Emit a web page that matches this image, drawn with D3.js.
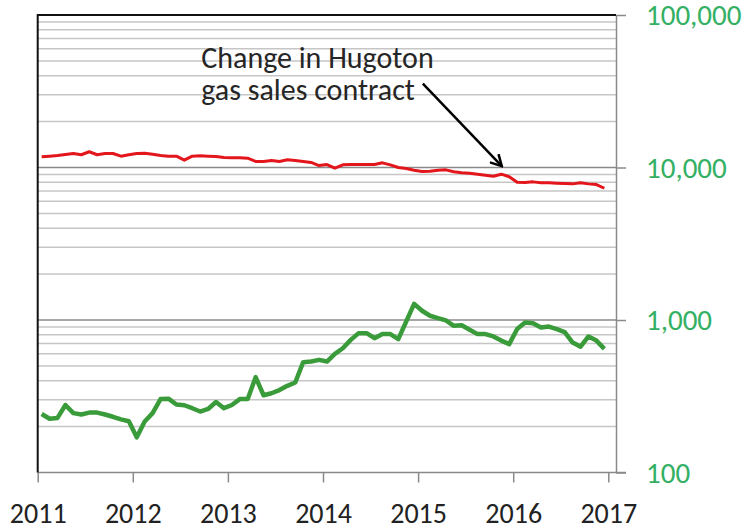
<!DOCTYPE html>
<html>
<head>
<meta charset="utf-8">
<script src="https://cdn.jsdelivr.net/npm/d3@7"></script>
<style>
	body { margin: 0; background: #fff; }
	text { font-family: Carlito, Calibri, "Open Sans", sans-serif; }
</style>
</head>
<body>
<script>
var width		= 755,
	height		= 529,
	plotLeft	= 37.7,
	plotRight	= 616,
	plotTop		= 15,
	plotBottom	= 472.5;

// monthly values, Jan 2011 .. Dec 2016
var redValues = [
	11755, 11860, 11990, 12170, 12360, 12120, 12680, 12120, 12360, 12360, 11860, 12120,
	12360, 12420, 12230, 11990, 11860, 11860, 11170, 11860, 11920, 11860, 11800, 11630,
	11580, 11580, 11520, 10950, 10950, 11120, 10950, 11230, 11120, 10950, 10790, 10300,
	10460, 9900, 10410, 10460, 10460, 10460, 10460, 10730, 10410, 10000, 9850, 9600,
	9415, 9460, 9600, 9650, 9370, 9230, 9180, 9040, 8900, 8770, 9040, 8690,
	8000, 7970, 8050, 7930, 7930, 7890, 7850, 7810, 7930, 7810, 7730, 7310
];
var greenValues = [
	242, 225, 228, 277, 245, 240, 247, 247, 240, 232, 223, 217,
	170, 216, 245, 303, 305, 279, 276, 264, 251, 261, 290, 264,
	277, 303, 303, 422, 321, 331, 347, 370, 389, 529, 534, 548,
	534, 600, 653, 741, 820, 820, 760, 808, 808, 750, 977, 1276,
	1150, 1066, 1029, 993, 916, 923, 863, 808, 808, 780, 733, 695,
	872, 963, 953, 893, 906, 872, 833, 711, 669, 780, 733, 647
];
var yearTicks	= [2011, 2012, 2013, 2014, 2015, 2016, 2017];
var decadeTicks	= [100, 1000, 10000, 100000];
var noteLines	= ["Change in Hugoton", "gas sales contract"];
// annotation anchors in data units: [year, value]
var noteText	= [[2012.72, 44600], [2012.72, 27900]];
var noteArrow	= [[2015.05, 35500], [2015.88, 10200]];

var months = d3.range(redValues.length).map(function(i) {
	return 2011 + (i + 0.5) / 12;
});

var x = d3.scaleLinear().domain([2011, 2017]).range([plotLeft, plotLeft + 6 * 95.1]);
var y = d3.scaleLog().domain([100, 100000]).range([plotBottom, plotTop]);

var svg = d3.select("body")
	.append("svg")
	.attr("width", width)
	.attr("height", height);

// gridlines: minor then major
var minor = [];
decadeTicks.slice(0, 3).forEach(function(d) {
	for (var k = 2; k <= 9; k++) minor.push(d * k);
});

svg.append("g").selectAll("line")
	.data(minor)
	.join("line")
	.attr("x1", plotLeft).attr("x2", plotRight)
	.attr("y1", function(d) { return y(d); })
	.attr("y2", function(d) { return y(d); })
	.attr("stroke", "#c6c6c6")
	.attr("stroke-width", 1.5);

svg.append("g").selectAll("line")
	.data(decadeTicks.slice(1, 3))
	.join("line")
	.attr("x1", plotLeft).attr("x2", plotRight)
	.attr("y1", function(d) { return y(d); })
	.attr("y2", function(d) { return y(d); })
	.attr("stroke", "#8a8a8a")
	.attr("stroke-width", 1.5);

// right axis
var yAxis = d3.axisRight(y)
	.tickValues(decadeTicks)
	.tickFormat(d3.format(","))
	.tickSize(10)
	.tickSizeOuter(0)
	.tickPadding(20);

var ya = svg.append("g")
	.attr("transform", "translate(" + plotRight + ",0)")
	.call(yAxis);
ya.select(".domain").attr("stroke", "#8a8a8a").attr("stroke-width", 1.5);
ya.selectAll(".tick line").attr("stroke", "#8a8a8a").attr("stroke-width", 1.5);
ya.selectAll(".tick text")
	.attr("fill", "#33b063")
	.style("font-size", "29px")
	.attr("dy", "0.33em");

// bottom axis
var xAxis = d3.axisBottom(x)
	.tickValues(yearTicks)
	.tickFormat(d3.format("d"))
	.tickSize(10)
	.tickSizeOuter(0)
	.tickPadding(21);

var xa = svg.append("g")
	.attr("transform", "translate(0," + plotBottom + ")")
	.call(xAxis);
xa.select(".domain").attr("d", "M" + plotLeft + ",0H" + (plotRight + 10))
	.attr("stroke", "#8a8a8a").attr("stroke-width", 1.5);
xa.selectAll(".tick line").attr("stroke", "#8a8a8a").attr("stroke-width", 1.5);
xa.selectAll(".tick text")
	.attr("fill", "#222")
	.style("font-size", "28px");

// top and left border
svg.append("path")
	.attr("d", "M" + plotLeft + "," + plotBottom + "V" + plotTop + "H" + plotRight)
	.attr("fill", "none")
	.attr("stroke", "#111")
	.attr("stroke-width", 2);

// series
var line = d3.line()
	.x(function(d, i) { return x(months[i]); })
	.y(function(d) { return y(d); });

svg.append("path")
	.datum(redValues)
	.attr("d", line)
	.attr("fill", "none")
	.attr("stroke", "#e3161c")
	.attr("stroke-width", 3)
	.attr("stroke-linejoin", "round");

svg.append("path")
	.datum(greenValues)
	.attr("d", line)
	.attr("fill", "none")
	.attr("stroke", "#3a9b3a")
	.attr("stroke-width", 4.5)
	.attr("stroke-linejoin", "round");

// annotation
svg.append("g").selectAll("text")
	.data(noteLines)
	.join("text")
	.attr("x", function(d, i) { return x(noteText[i][0]); })
	.attr("y", function(d, i) { return y(noteText[i][1]); })
	.attr("fill", "#262626")
	.style("font-size", "30px")
	.text(function(d) { return d; });

svg.append("defs").append("marker")
	.attr("id", "head")
	.attr("viewBox", "0 0 14 14")
	.attr("refX", 12).attr("refY", 7)
	.attr("markerWidth", 14).attr("markerHeight", 14)
	.attr("markerUnits", "userSpaceOnUse")
	.attr("orient", "auto")
	.append("path")
	.attr("d", "M1,1 L12,7 L1,13")
	.attr("fill", "none")
	.attr("stroke", "#000")
	.attr("stroke-width", 2.5);

svg.append("line")
	.attr("x1", x(noteArrow[0][0])).attr("y1", y(noteArrow[0][1]))
	.attr("x2", x(noteArrow[1][0])).attr("y2", y(noteArrow[1][1]))
	.attr("stroke", "#000")
	.attr("stroke-width", 2.5)
	.attr("marker-end", "url(#head)");
</script>
</body>
</html>
